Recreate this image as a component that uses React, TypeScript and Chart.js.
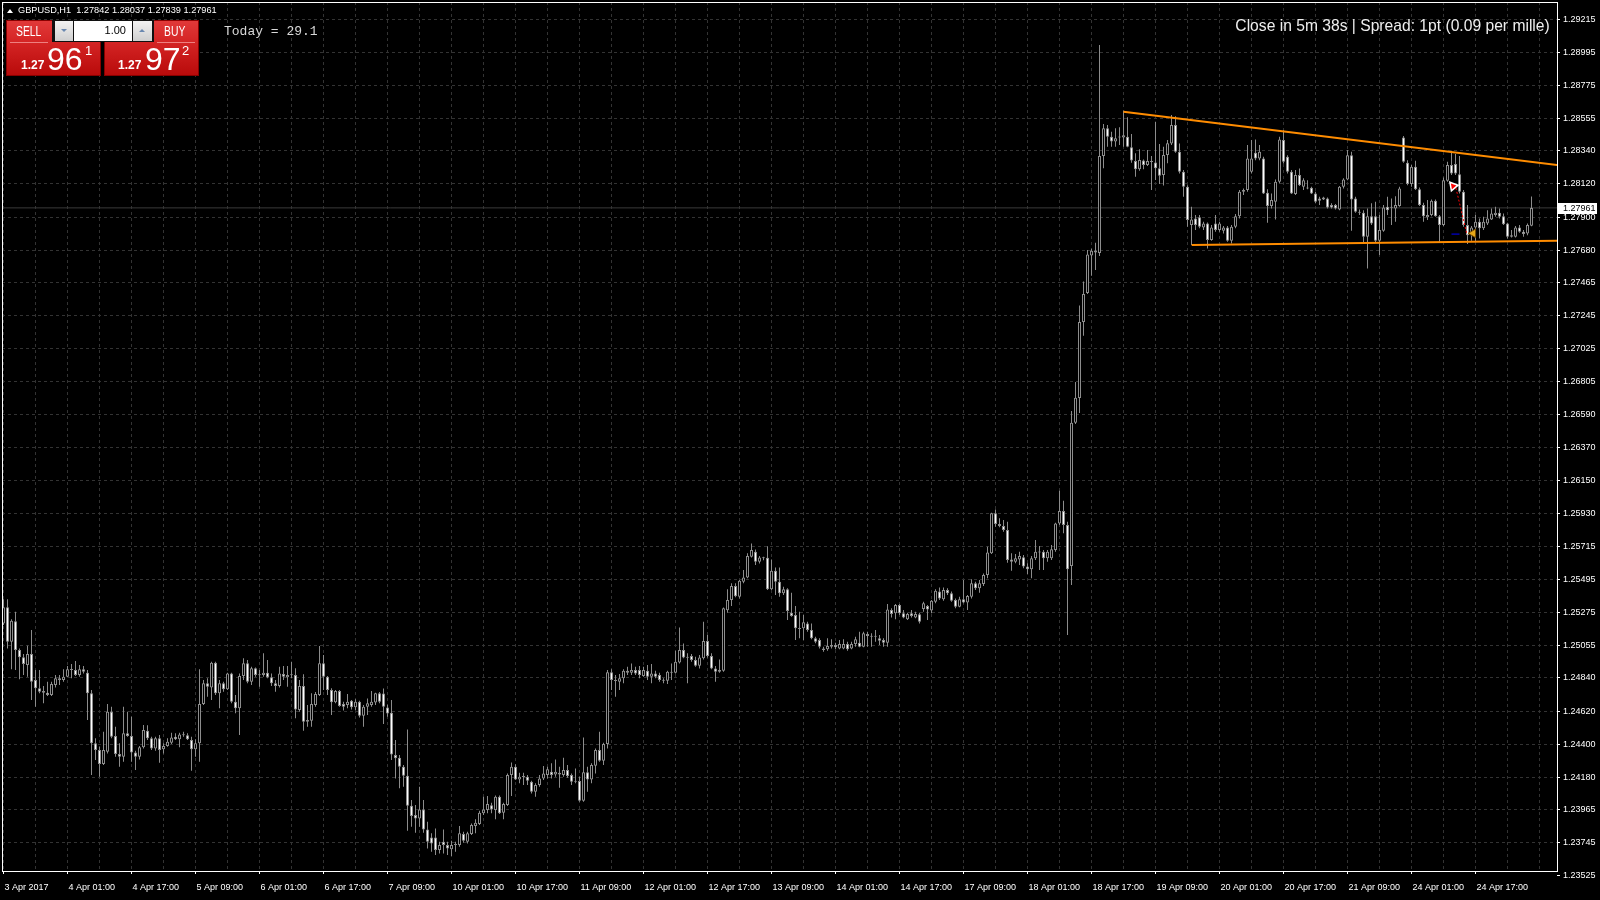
import React, { useEffect, useRef } from "react";
import { Chart, registerables } from "chart.js";

Chart.register(...registerables);

// ---- GBPUSD H1 candles (3 Apr 2017 09:00 onward) ----
const opens = [
  1.25202, 1.25309, 1.25081, 1.25216, 1.25025, 1.24977, 1.24926, 1.24999, 1.24826, 1.24771,
  1.24753, 1.24742, 1.24727, 1.24793, 1.24837, 1.24826, 1.24848, 1.24897, 1.24892, 1.24859,
  1.24897, 1.24875, 1.24738, 1.24406, 1.24361, 1.24268, 1.2435, 1.24616, 1.24454, 1.24335,
  1.24317, 1.24472, 1.24454, 1.24344, 1.24317, 1.24379, 1.2449, 1.24439, 1.24372, 1.24439,
  1.24366, 1.24388, 1.2441, 1.2445, 1.24432, 1.24465, 1.24459, 1.24428, 1.24366, 1.24406,
  1.24667, 1.24804, 1.24777, 1.24941, 1.24738, 1.24804, 1.24764, 1.2487, 1.24682, 1.24638,
  1.24853, 1.24937, 1.24815, 1.24904, 1.24864, 1.24859, 1.24875, 1.24844, 1.24804, 1.24786,
  1.24866, 1.24844, 1.24859, 1.24859, 1.24627, 1.24786, 1.24561, 1.24556, 1.2466, 1.24727,
  1.24937, 1.24848, 1.2476, 1.24678, 1.24753, 1.24667, 1.2466, 1.24689, 1.24645, 1.24682,
  1.24589, 1.24649, 1.2466, 1.24676, 1.24738, 1.24737, 1.24644, 1.24609, 1.24328, 1.2431,
  1.2425, 1.24191, 1.23991, 1.2393, 1.23907, 1.23967, 1.23834, 1.23781, 1.23781, 1.23697,
  1.23752, 1.2373, 1.23702, 1.2373, 1.2373, 1.23803, 1.23752, 1.23803, 1.23856, 1.2387,
  1.23941, 1.23963, 1.23994, 1.23963, 1.24051, 1.23945, 1.23996, 1.24195, 1.2425, 1.24166,
  1.24184, 1.24184, 1.24151, 1.24084, 1.24129, 1.24173, 1.24195, 1.24217, 1.24199, 1.24211,
  1.24195, 1.24228, 1.24195, 1.24157, 1.24155, 1.24025, 1.24213, 1.24166, 1.24257, 1.24361,
  1.2429, 1.24401, 1.24877, 1.24826, 1.24815, 1.24837, 1.24888, 1.24875, 1.24892, 1.24892,
  1.24852, 1.24888, 1.24848, 1.2487, 1.24859, 1.24826, 1.24821, 1.24875, 1.24875, 1.24943,
  1.25025, 1.24981, 1.24985, 1.24959, 1.24921, 1.2497, 1.25085, 1.24985, 1.24903, 1.24881,
  1.24888, 1.2529, 1.25357, 1.2545, 1.25379, 1.25479, 1.25507, 1.25645, 1.25678, 1.25611,
  1.25638, 1.25638, 1.25428, 1.25552, 1.25479, 1.25402, 1.25428, 1.25273, 1.25258, 1.25169,
  1.25169, 1.25202, 1.25158, 1.25103, 1.25092, 1.25036, 1.2503, 1.25047, 1.25059, 1.25036,
  1.25036, 1.25065, 1.25036, 1.25065, 1.25074, 1.25047, 1.25132, 1.25118, 1.25118, 1.25103,
  1.25092, 1.25074, 1.25291, 1.25269, 1.25324, 1.25269, 1.25229, 1.25269, 1.25242, 1.25262,
  1.25298, 1.25317, 1.25287, 1.25346, 1.25413, 1.25362, 1.25424, 1.25402, 1.25357, 1.25313,
  1.25362, 1.2534, 1.25379, 1.25468, 1.25435, 1.25464, 1.25523, 1.25667, 1.25933, 1.25862,
  1.25849, 1.25822, 1.25627, 1.25612, 1.25627, 1.25641, 1.25579, 1.25561, 1.25634, 1.25678,
  1.25678, 1.25634, 1.25634, 1.25689, 1.25866, 1.25948, 1.25855, 1.25583, 1.26534, 1.26698,
  1.27203, 1.27396, 1.27644, 1.27677, 1.27661, 1.28305, 1.28489, 1.28434, 1.28401, 1.28434,
  1.28429, 1.28434, 1.28363, 1.28272, 1.28217, 1.28275, 1.28246, 1.28268, 1.28263, 1.28224,
  1.28179, 1.28312, 1.28389, 1.28511, 1.28334, 1.28201, 1.28101, 1.27847, 1.27891, 1.27898,
  1.27831, 1.27858, 1.27747, 1.27858, 1.27814, 1.27809, 1.27831, 1.27743, 1.27836, 1.27906,
  1.28068, 1.28079, 1.28201, 1.28327, 1.28289, 1.28289, 1.28061, 1.27973, 1.28002, 1.28134,
  1.28411, 1.283, 1.28201, 1.28053, 1.28179, 1.28101, 1.28095, 1.28095, 1.28057, 1.28024,
  1.2803, 1.28024, 1.2798, 1.2798, 1.27951, 1.28101, 1.2815, 1.28311, 1.28024, 1.27935,
  1.27929, 1.27769, 1.27906, 1.27906, 1.27743, 1.27809, 1.27968, 1.27964, 1.27957, 1.27973,
  1.28429, 1.28261, 1.28119, 1.28234, 1.28084, 1.2798, 1.27898, 1.27913, 1.28008, 1.27906,
  1.27847, 1.28141, 1.28245, 1.28252, 1.28185, 1.28068, 1.27847, 1.2778, 1.27831, 1.27869,
  1.27825, 1.27858, 1.27884, 1.27913, 1.27929, 1.27906, 1.27858, 1.2778, 1.27769, 1.27831,
  1.27802, 1.27791, 1.27842,
];
const highs = [
  1.25362, 1.25362, 1.25229, 1.2528, 1.25036, 1.24999, 1.25054, 1.25158, 1.24892, 1.24892,
  1.24786, 1.24815, 1.24815, 1.24859, 1.24859, 1.24897, 1.24919, 1.24932, 1.24952, 1.24926,
  1.24919, 1.24892, 1.2476, 1.24439, 1.24383, 1.24483, 1.24667, 1.24649, 1.24516, 1.24406,
  1.24649, 1.24616, 1.24583, 1.24357, 1.24388, 1.24527, 1.24525, 1.2445, 1.2445, 1.24461,
  1.24406, 1.24439, 1.24476, 1.24472, 1.24476, 1.24483, 1.24472, 1.2445, 1.24432, 1.24897,
  1.24826, 1.24837, 1.24948, 1.24948, 1.24826, 1.24815, 1.24875, 1.24875, 1.24727, 1.2487,
  1.2497, 1.24959, 1.24915, 1.2491, 1.24892, 1.25003, 1.24959, 1.2487, 1.24826, 1.24915,
  1.24919, 1.24919, 1.24948, 1.24904, 1.24826, 1.24864, 1.2466, 1.24738, 1.24746, 1.25052,
  1.24992, 1.24853, 1.24771, 1.2476, 1.2476, 1.24682, 1.24733, 1.24693, 1.24698, 1.24689,
  1.2466, 1.24704, 1.24753, 1.24742, 1.24746, 1.2477, 1.24662, 1.24693, 1.24427, 1.24328,
  1.24261, 1.24498, 1.24029, 1.23996, 1.24118, 1.24029, 1.23885, 1.23808, 1.23841, 1.23752,
  1.23834, 1.23752, 1.23759, 1.23752, 1.23856, 1.23819, 1.23819, 1.23874, 1.23901, 1.23958,
  1.24051, 1.24056, 1.24011, 1.2406, 1.2406, 1.24011, 1.24206, 1.24279, 1.24266, 1.24211,
  1.24211, 1.24195, 1.24157, 1.2414, 1.24195, 1.24255, 1.2425, 1.24273, 1.24299, 1.2425,
  1.2431, 1.24261, 1.24206, 1.24239, 1.24184, 1.24445, 1.2425, 1.24273, 1.24372, 1.24483,
  1.2441, 1.24892, 1.24897, 1.24859, 1.24866, 1.24897, 1.24914, 1.24936, 1.24914, 1.24919,
  1.24914, 1.24925, 1.24932, 1.24888, 1.24875, 1.24837, 1.24888, 1.24936, 1.25021, 1.25175,
  1.25069, 1.25003, 1.24999, 1.24981, 1.24992, 1.25213, 1.25125, 1.25003, 1.24919, 1.24963,
  1.25308, 1.25428, 1.25468, 1.25468, 1.2549, 1.25556, 1.25667, 1.25733, 1.25693, 1.25649,
  1.25645, 1.25715, 1.25627, 1.25574, 1.25574, 1.25446, 1.25435, 1.25406, 1.25317, 1.2528,
  1.25258, 1.25213, 1.25202, 1.25114, 1.25103, 1.25047, 1.25103, 1.25096, 1.25074, 1.25092,
  1.25096, 1.25081, 1.25081, 1.25114, 1.25147, 1.25147, 1.25147, 1.25136, 1.25158, 1.25125,
  1.25103, 1.25331, 1.25302, 1.25331, 1.25331, 1.25291, 1.25273, 1.25291, 1.2528, 1.25273,
  1.25346, 1.25324, 1.25357, 1.25428, 1.25441, 1.25441, 1.25435, 1.25413, 1.25368, 1.25379,
  1.2549, 1.25391, 1.25495, 1.25479, 1.2549, 1.25534, 1.25711, 1.25937, 1.25959, 1.259,
  1.25888, 1.25877, 1.25667, 1.25663, 1.25678, 1.25656, 1.25601, 1.25649, 1.25756, 1.25716,
  1.25689, 1.25689, 1.25722, 1.25871, 1.26083, 1.26017, 1.25877, 1.26612, 1.26805, 1.27313,
  1.27472, 1.27681, 1.2769, 1.27729, 1.29042, 1.28518, 1.28511, 1.28467, 1.28489, 1.28496,
  1.28606, 1.28562, 1.28452, 1.28323, 1.2835, 1.28283, 1.28345, 1.28305, 1.28533, 1.28385,
  1.28367, 1.28412, 1.28577, 1.2857, 1.28389, 1.28212, 1.28112, 1.27968, 1.27913, 1.27913,
  1.27869, 1.27864, 1.27847, 1.27913, 1.27869, 1.2784, 1.2784, 1.27847, 1.2792, 1.28079,
  1.2809, 1.28378, 1.28411, 1.28415, 1.28378, 1.283, 1.28084, 1.28057, 1.2815, 1.28433,
  1.28477, 1.28311, 1.28212, 1.28212, 1.28223, 1.28157, 1.28145, 1.28101, 1.28068, 1.28035,
  1.28035, 1.2803, 1.27991, 1.27986, 1.28106, 1.28157, 1.28345, 1.28334, 1.28035, 1.27951,
  1.27946, 1.27957, 1.27991, 1.28002, 1.27913, 1.2798, 1.28035, 1.28024, 1.28039, 1.28101,
  1.28438, 1.28278, 1.28245, 1.28274, 1.28097, 1.27995, 1.28013, 1.28017, 1.28017, 1.27913,
  1.28163, 1.28267, 1.2834, 1.28318, 1.28305, 1.28079, 1.2798, 1.2784, 1.27913, 1.27891,
  1.27902, 1.27946, 1.27957, 1.27968, 1.27957, 1.27924, 1.27862, 1.27814, 1.2784, 1.27847,
  1.27814, 1.27858, 1.28037,
];
const lows = [
  1.25191, 1.25036, 1.24897, 1.24892, 1.24831, 1.24859, 1.24848, 1.24693, 1.24649, 1.24738,
  1.24671, 1.2472, 1.2472, 1.24777, 1.24793, 1.24815, 1.24844, 1.24837, 1.24853, 1.24848,
  1.2487, 1.24561, 1.24195, 1.24295, 1.24184, 1.24262, 1.24339, 1.24439, 1.24317, 1.24251,
  1.24284, 1.2445, 1.24284, 1.24229, 1.24299, 1.24372, 1.24428, 1.24361, 1.24357, 1.24277,
  1.24339, 1.24383, 1.24401, 1.24428, 1.24379, 1.2445, 1.24428, 1.24224, 1.24317, 1.24284,
  1.2466, 1.24715, 1.24693, 1.24727, 1.24638, 1.24749, 1.2476, 1.24671, 1.24605, 1.24461,
  1.24826, 1.24804, 1.24793, 1.24848, 1.24782, 1.24848, 1.24837, 1.24786, 1.24749, 1.24777,
  1.24826, 1.24782, 1.24837, 1.24572, 1.24616, 1.2449, 1.24516, 1.24516, 1.24649, 1.2472,
  1.2476, 1.24727, 1.24594, 1.24671, 1.24649, 1.24623, 1.24638, 1.24631, 1.24627, 1.24578,
  1.24516, 1.24594, 1.24649, 1.2466, 1.24671, 1.24534, 1.24582, 1.24295, 1.24173, 1.24107,
  1.24118, 1.23825, 1.23852, 1.23812, 1.23852, 1.23812, 1.23708, 1.23686, 1.23664, 1.23675,
  1.23675, 1.23664, 1.23657, 1.23686, 1.23719, 1.23746, 1.23741, 1.23797, 1.23808, 1.23863,
  1.2393, 1.23941, 1.23941, 1.23901, 1.23936, 1.23901, 1.23989, 1.24056, 1.24162, 1.2414,
  1.24129, 1.24129, 1.24073, 1.24051, 1.24118, 1.24162, 1.24173, 1.24173, 1.24184, 1.24111,
  1.24184, 1.24177, 1.24129, 1.2414, 1.24018, 1.24018, 1.24084, 1.2414, 1.24206, 1.24284,
  1.24261, 1.24372, 1.24759, 1.24715, 1.24759, 1.24804, 1.24859, 1.24859, 1.24859, 1.24837,
  1.24848, 1.24826, 1.24804, 1.24837, 1.24815, 1.24804, 1.24799, 1.24826, 1.2487, 1.24936,
  1.2497, 1.24804, 1.24947, 1.24914, 1.24903, 1.24963, 1.24976, 1.24897, 1.24815, 1.24875,
  1.24881, 1.25273, 1.25317, 1.25375, 1.25368, 1.25468, 1.25501, 1.2564, 1.25589, 1.256,
  1.25622, 1.25423, 1.25424, 1.25391, 1.25379, 1.25391, 1.25225, 1.25247, 1.25092, 1.25103,
  1.25092, 1.25147, 1.25096, 1.2507, 1.25036, 1.25014, 1.25021, 1.25036, 1.2503, 1.2503,
  1.2503, 1.25021, 1.2503, 1.25047, 1.25043, 1.25043, 1.25047, 1.25047, 1.25081, 1.25059,
  1.25047, 1.25047, 1.25242, 1.25229, 1.25258, 1.25236, 1.25225, 1.25242, 1.25236, 1.25202,
  1.2528, 1.25225, 1.25269, 1.25335, 1.25357, 1.25353, 1.25391, 1.25346, 1.25302, 1.25309,
  1.25335, 1.25291, 1.25368, 1.25424, 1.25406, 1.2545, 1.25501, 1.25663, 1.25844, 1.2584,
  1.25811, 1.25605, 1.25552, 1.25601, 1.2559, 1.25568, 1.2553, 1.25501, 1.25623, 1.25556,
  1.25556, 1.25612, 1.25623, 1.25678, 1.25855, 1.258, 1.25125, 1.25457, 1.26526, 1.26599,
  1.27112, 1.27389, 1.2751, 1.27548, 1.27641, 1.28224, 1.28367, 1.28367, 1.28367, 1.28379,
  1.28367, 1.28363, 1.28261, 1.28168, 1.28208, 1.28217, 1.28239, 1.2808, 1.28146, 1.2812,
  1.28109, 1.28257, 1.28378, 1.28327, 1.2819, 1.28035, 1.27836, 1.27714, 1.27814, 1.27825,
  1.27814, 1.27692, 1.27743, 1.27802, 1.27802, 1.27791, 1.27736, 1.27725, 1.27825, 1.27891,
  1.28046, 1.28068, 1.2819, 1.28278, 1.28278, 1.28053, 1.27862, 1.27957, 1.27884, 1.28123,
  1.28256, 1.2819, 1.28053, 1.28046, 1.28106, 1.28079, 1.28084, 1.28053, 1.27991, 1.2798,
  1.28013, 1.27957, 1.27957, 1.27951, 1.27946, 1.2809, 1.28145, 1.27809, 1.27929, 1.27913,
  1.27725, 1.27559, 1.27847, 1.27729, 1.27648, 1.27802, 1.27913, 1.27847, 1.27869, 1.27968,
  1.28261, 1.28112, 1.28101, 1.28079, 1.27973, 1.27869, 1.2788, 1.27906, 1.27902, 1.27736,
  1.2784, 1.28134, 1.28179, 1.28179, 1.28057, 1.27836, 1.27721, 1.27743, 1.27736, 1.27758,
  1.27814, 1.27847, 1.2788, 1.27902, 1.27891, 1.27847, 1.27758, 1.27765, 1.27765, 1.27796,
  1.27769, 1.2778, 1.27839,
];
const closes = [
  1.25309, 1.25081, 1.2522, 1.25025, 1.24977, 1.24932, 1.24999, 1.24815, 1.24771, 1.24749,
  1.24742, 1.24727, 1.248, 1.24837, 1.24826, 1.24848, 1.24897, 1.24892, 1.24859, 1.24897,
  1.24881, 1.24738, 1.24406, 1.24361, 1.24268, 1.24361, 1.24616, 1.2445, 1.24335, 1.24317,
  1.24472, 1.24454, 1.24344, 1.24317, 1.24379, 1.24494, 1.24439, 1.24372, 1.24439, 1.24361,
  1.24388, 1.24417, 1.24445, 1.24432, 1.24465, 1.24459, 1.24432, 1.24366, 1.24406, 1.24667,
  1.24804, 1.24782, 1.24941, 1.24738, 1.24804, 1.24764, 1.2487, 1.24682, 1.24638, 1.24853,
  1.24937, 1.24815, 1.24904, 1.24859, 1.24857, 1.24875, 1.24844, 1.24804, 1.24786, 1.2487,
  1.24848, 1.24859, 1.24857, 1.24631, 1.24786, 1.24549, 1.24549, 1.24667, 1.24733, 1.24937,
  1.24848, 1.2476, 1.24678, 1.24753, 1.24654, 1.24649, 1.24682, 1.24645, 1.24682, 1.24589,
  1.24649, 1.24671, 1.24682, 1.24738, 1.24682, 1.24649, 1.24604, 1.24332, 1.24306, 1.2425,
  1.24191, 1.23991, 1.23923, 1.23907, 1.23967, 1.23834, 1.23752, 1.23741, 1.23697, 1.2373,
  1.2373, 1.23708, 1.2373, 1.23737, 1.23808, 1.23759, 1.23808, 1.23863, 1.23879, 1.23945,
  1.23967, 1.24003, 1.23967, 1.24051, 1.23941, 1.24003, 1.24195, 1.2425, 1.24166, 1.24184,
  1.24182, 1.24157, 1.24084, 1.24129, 1.24173, 1.24206, 1.24233, 1.24195, 1.24217, 1.24199,
  1.24228, 1.24188, 1.24151, 1.24151, 1.24025, 1.24213, 1.24166, 1.24261, 1.24361, 1.2429,
  1.24401, 1.24877, 1.24826, 1.24819, 1.24837, 1.24888, 1.24875, 1.24892, 1.2487, 1.24859,
  1.24892, 1.24848, 1.2487, 1.24848, 1.24826, 1.24821, 1.24881, 1.24881, 1.24947, 1.25025,
  1.24976, 1.24974, 1.24959, 1.24921, 1.24976, 1.25085, 1.24985, 1.24903, 1.24881, 1.24892,
  1.25302, 1.25357, 1.2545, 1.25383, 1.25485, 1.25507, 1.25649, 1.25689, 1.25611, 1.2564,
  1.25634, 1.25428, 1.25552, 1.25479, 1.25402, 1.25428, 1.25284, 1.25251, 1.25169, 1.25165,
  1.25209, 1.25158, 1.25103, 1.25081, 1.25047, 1.25025, 1.25052, 1.25059, 1.25043, 1.25065,
  1.25065, 1.2503, 1.25065, 1.25096, 1.25047, 1.25136, 1.25118, 1.25114, 1.25114, 1.25087,
  1.25074, 1.25295, 1.25264, 1.25324, 1.25269, 1.25242, 1.25264, 1.25251, 1.25264, 1.25213,
  1.25335, 1.25295, 1.25353, 1.25419, 1.25368, 1.25424, 1.25402, 1.25353, 1.25313, 1.25362,
  1.2534, 1.25384, 1.25468, 1.25435, 1.25468, 1.25523, 1.25672, 1.25933, 1.25862, 1.25849,
  1.25822, 1.25623, 1.25612, 1.25634, 1.25649, 1.25579, 1.25561, 1.25634, 1.25678, 1.25672,
  1.25634, 1.25678, 1.25694, 1.25866, 1.25948, 1.25855, 1.25561, 1.26534, 1.26701, 1.27203,
  1.27389, 1.27651, 1.27677, 1.27664, 1.28305, 1.28489, 1.28434, 1.28401, 1.28423, 1.28429,
  1.28443, 1.28367, 1.28275, 1.28217, 1.28279, 1.28246, 1.28272, 1.28266, 1.28224, 1.28175,
  1.28312, 1.2839, 1.28511, 1.28334, 1.28201, 1.28101, 1.2788, 1.27884, 1.27847, 1.27836,
  1.27858, 1.27747, 1.27831, 1.27814, 1.27858, 1.27831, 1.27743, 1.27836, 1.27906, 1.28068,
  1.28079, 1.28289, 1.28289, 1.28289, 1.28334, 1.28057, 1.27973, 1.28013, 1.28134, 1.28415,
  1.28267, 1.28201, 1.28057, 1.28179, 1.28112, 1.28145, 1.2809, 1.28057, 1.28002, 1.28008,
  1.28017, 1.27964, 1.27964, 1.27957, 1.28101, 1.2815, 1.28311, 1.28017, 1.27935, 1.27929,
  1.27769, 1.27906, 1.27858, 1.27743, 1.27814, 1.27964, 1.27946, 1.27962, 1.2798, 1.2809,
  1.28267, 1.28119, 1.28234, 1.28084, 1.2798, 1.27906, 1.27913, 1.28008, 1.27906, 1.27847,
  1.28145, 1.28245, 1.2819, 1.2819, 1.28068, 1.27847, 1.2778, 1.27831, 1.27869, 1.27825,
  1.27869, 1.27891, 1.27924, 1.27929, 1.27902, 1.27853, 1.27769, 1.27769, 1.27831, 1.27802,
  1.27787, 1.27847, 1.27961,
];

// time-axis labels, one every 16 bars
const timeLabels = [
  "3 Apr 2017", "4 Apr 01:00", "4 Apr 17:00", "5 Apr 09:00", "6 Apr 01:00", "6 Apr 17:00",
  "7 Apr 09:00", "10 Apr 01:00", "10 Apr 17:00", "11 Apr 09:00", "12 Apr 01:00", "12 Apr 17:00",
  "13 Apr 09:00", "14 Apr 01:00", "14 Apr 17:00", "17 Apr 09:00", "18 Apr 01:00", "18 Apr 17:00",
  "19 Apr 09:00", "20 Apr 01:00", "20 Apr 17:00", "21 Apr 09:00", "24 Apr 01:00", "24 Apr 17:00",
];
const BARS_PER_LABEL = 16;
const BARS_PER_GRID = 8;

// price-axis labels
const priceTicks = [
  1.23525, 1.23745, 1.23965, 1.2418, 1.244, 1.2462, 1.2484, 1.25055, 1.25275,
  1.25495, 1.25715, 1.2593, 1.2615, 1.2637, 1.2659, 1.26805, 1.27025, 1.27245,
  1.27465, 1.2768, 1.279, 1.2812, 1.2834, 1.28555, 1.28775, 1.28995, 1.29215,
];

// trend lines (bar index, price)
const upperTrend = [{ x: 280, y: 1.28599 }, { x: 390, y: 1.2824 }];
const lowerTrend = [{ x: 297.05, y: 1.27714 }, { x: 390, y: 1.27744 }];

// trade history marks
const tradeOpen = [{ x: 362.4, y: 1.28106 }];
const tradePath = [{ x: 363.1, y: 1.28093 }, { x: 365.8, y: 1.27792 }];
const tradeClose = [{ x: 367.4, y: 1.27792 }];
const stopMark = [{ x: 362.0, y: 1.27787 }, { x: 364.0, y: 1.27787 }];

const X_MIN = -0.375;
const X_MAX = 388.375;
const Y_MIN = 1.23558;
const Y_MAX = 1.29328;

const FONT = '"Liberation Sans", Arial, sans-serif';
const GRID = "#333333";
const CANDLE_LINE = "#8c8c8c";

export default function App() {
  const ref = useRef<HTMLCanvasElement | null>(null);

  useEffect(() => {
    if (!ref.current) return;
    const n = closes.length;
    const idx = closes.map((_, i) => i);
    const bodies = idx.map((i) => ({ x: i, y: [opens[i], closes[i]] }));
    const wicks = idx.map((i) => ({ x: i, y: [lows[i], highs[i]] }));
    const bodyFill = idx.map((i) => (closes[i] < opens[i] ? "#ffffff" : "#000000"));
    const lastClose = closes[n - 1];
    const gridBars: number[] = [];
    for (let v = 0; v <= X_MAX; v += BARS_PER_GRID) gridBars.push(v);

    const framePlugin = {
      id: "frame",
      afterDraw(chart: any) {
        const { ctx, chartArea: a, scales } = chart;
        ctx.save();
        ctx.strokeStyle = "#ffffff";
        ctx.lineWidth = 1;
        ctx.strokeRect(a.left + 0.5, a.top + 0.5, a.right - a.left, a.bottom - a.top);
        const y = Math.round(scales.y.getPixelForValue(lastClose));
        ctx.fillStyle = "#ffffff";
        ctx.fillRect(a.right + 1, y - 5, 39, 11);
        ctx.fillStyle = "#000000";
        ctx.font = `9px ${FONT}`;
        ctx.textBaseline = "middle";
        ctx.textAlign = "left";
        ctx.fillText(lastClose.toFixed(5), a.right + 6, y + 0.5);
        ctx.restore();
      },
    };

    const chart = new Chart(ref.current, {
      type: "bar",
      data: {
        datasets: [
          {
            type: "line",
            data: tradeOpen,
            showLine: false,
            pointStyle: "triangle",
            pointRadius: 5,
            rotation: 200,
            pointBackgroundColor: "#ff0000",
            pointBorderColor: "#ffffff",
            pointBorderWidth: 1.5,
            order: 0,
          } as any,
          {
            type: "line",
            data: tradeClose,
            showLine: false,
            pointStyle: "triangle",
            pointRadius: 5,
            rotation: -90,
            pointBackgroundColor: "#e8a818",
            pointBorderColor: "#704800",
            pointBorderWidth: 1,
            order: 0,
          } as any,
          {
            type: "line",
            data: tradePath,
            borderColor: "#ff0000",
            borderWidth: 1,
            borderDash: [2, 2],
            pointRadius: 0,
            order: 0,
          } as any,
          {
            type: "line",
            data: stopMark,
            borderColor: "#0000ff",
            borderWidth: 1,
            pointRadius: 0,
            order: 0,
          } as any,
          {
            type: "line",
            data: upperTrend,
            borderColor: "#ff8c00",
            borderWidth: 2,
            pointRadius: 0,
            order: 1,
          } as any,
          {
            type: "line",
            data: lowerTrend,
            borderColor: "#ff8c00",
            borderWidth: 2,
            pointRadius: 0,
            order: 1,
          } as any,
          {
            type: "bar",
            data: bodies,
            backgroundColor: bodyFill,
            borderColor: CANDLE_LINE,
            borderWidth: 1,
            borderSkipped: false,
            grouped: false,
            barPercentage: 1,
            categoryPercentage: 1,
            maxBarThickness: 3,
            minBarLength: 1,
            inflateAmount: 0,
            order: 2,
          } as any,
          {
            type: "bar",
            data: wicks,
            backgroundColor: CANDLE_LINE,
            borderWidth: 0,
            grouped: false,
            barPercentage: 1,
            categoryPercentage: 1,
            maxBarThickness: 1,
            minBarLength: 1,
            inflateAmount: 0,
            order: 3,
          } as any,
          {
            type: "line",
            data: [
              { x: X_MIN, y: lastClose },
              { x: X_MAX, y: lastClose },
            ],
            borderColor: "#3a3a3a",
            borderWidth: 1,
            pointRadius: 0,
            order: 4,
          } as any,
        ],
      },
      options: {
        animation: false,
        responsive: false,
        maintainAspectRatio: false,
        events: [],
        layout: { autoPadding: false, padding: { left: 2, top: 2, right: 0, bottom: 0 } },
        plugins: { legend: { display: false }, tooltip: { enabled: false } },
        scales: {
          x: {
            type: "linear",
            position: "bottom",
            min: X_MIN,
            max: X_MAX,
            offset: false,
            bounds: "data",
            afterFit: (s: any) => {
              s.height = 29;
              s.paddingLeft = 0;
              s.paddingRight = 0;
            },
            afterBuildTicks: (s: any) => {
              s.ticks = gridBars.map((v) => ({ value: v }));
            },
            grid: {
              color: GRID,
              lineWidth: 1,
              offset: false,
              drawTicks: true,
              tickLength: 3,
              tickWidth: 1,
              borderDash: [3, 3],
              tickBorderDash: [],
              tickColor: (c: any) =>
                c.tick && c.tick.value % BARS_PER_LABEL === 0 && timeLabels[c.tick.value / BARS_PER_LABEL]
                  ? "#ffffff"
                  : "rgba(0,0,0,0)",
            },
            border: { display: false, dash: [3, 3] },
            ticks: {
              color: "#ffffff",
              font: { family: FONT, size: 9 },
              autoSkip: false,
              maxRotation: 0,
              minRotation: 0,
              align: "start",
              padding: 8,
              labelOffset: 1,
              callback: (value: any) => {
                const v = Number(value);
                return v % BARS_PER_LABEL === 0 ? timeLabels[v / BARS_PER_LABEL] ?? "" : "";
              },
            },
          } as any,
          y: {
            type: "linear",
            position: "right",
            min: Y_MIN,
            max: Y_MAX,
            bounds: "data",
            afterFit: (s: any) => {
              s.width = 43;
              s.paddingTop = 0;
              s.paddingBottom = 0;
            },
            afterBuildTicks: (s: any) => {
              s.ticks = priceTicks.map((v) => ({ value: v }));
            },
            grid: {
              color: (c: any) => (c.tick && c.tick.value < Y_MIN ? "rgba(0,0,0,0)" : GRID),
              lineWidth: 1,
              drawTicks: true,
              tickLength: 3,
              tickWidth: 1,
              tickColor: "#ffffff",
              borderDash: [3, 3],
              tickBorderDash: [],
            },
            border: { display: false, dash: [3, 3] },
            ticks: {
              color: "#ffffff",
              font: { family: FONT, size: 9 },
              autoSkip: false,
              padding: 3,
              crossAlign: "near",
              callback: (value: any) => Number(value).toFixed(5),
            },
          } as any,
        },
      },
      plugins: [framePlugin],
    } as any);

    return () => chart.destroy();
  }, []);

  const redBlock: React.CSSProperties = {
    position: "absolute",
    top: 20,
    width: 95,
    height: 56,
    background: "linear-gradient(to bottom, #e23a3a 0%, #d42424 40%, #b80a0a 100%)",
    boxShadow: "inset 0 0 0 1px #8a0000",
  };
  const abs = (o: React.CSSProperties): React.CSSProperties => ({ position: "absolute", whiteSpace: "pre", ...o });

  return (
    <div
      style={{
        position: "fixed",
        left: 0,
        top: 0,
        width: 1600,
        height: 900,
        background: "#000000",
        overflow: "hidden",
      }}
    >
      <canvas ref={ref} width={1600} height={900} style={{ position: "absolute", left: 0, top: 0, width: 1600, height: 900 }} />

      {/* symbol header */}
      <div
        style={abs({
          left: 7,
          top: 9,
          width: 0,
          height: 0,
          borderLeft: "3px solid transparent",
          borderRight: "3px solid transparent",
          borderBottom: "4px solid #ffffff",
        })}
      />
      <div style={abs({ left: 18, top: 6, font: `9.2px ${FONT}`, lineHeight: "9.5px", color: "#ffffff" })}>
        GBPUSD,H1  1.27842 1.28037 1.27839 1.27961
      </div>

      {/* one-click trading panel */}
      <div style={{ ...redBlock, left: 6 }} />
      <div style={{ ...redBlock, left: 104 }} />
      <div style={abs({ left: 10, top: 42, width: 38, height: 1, background: "#ee8080" })} />
      <div style={abs({ left: 157, top: 42, width: 38, height: 1, background: "#ee8080" })} />
      <div
        style={abs({
          left: 16,
          top: 24,
          font: `14px ${FONT}`,
          lineHeight: "14px",
          color: "#ffffff",
          transform: "scaleX(0.74)",
          transformOrigin: "left center",
        })}
      >
        SELL
      </div>
      <div
        style={abs({
          left: 164,
          top: 24,
          font: `14px ${FONT}`,
          lineHeight: "14px",
          color: "#ffffff",
          transform: "scaleX(0.74)",
          transformOrigin: "left center",
        })}
      >
        BUY
      </div>
      <div style={abs({ left: 52, top: 20, width: 102, height: 22, background: "#101010" })} />
      <div
        style={abs({
          left: 55,
          top: 21,
          width: 18,
          height: 20,
          background: "linear-gradient(#f2f2f2, #cfcfcf)",
        })}
      />
      <div
        style={abs({
          left: 61,
          top: 29,
          width: 0,
          height: 0,
          borderLeft: "3px solid transparent",
          borderRight: "3px solid transparent",
          borderTop: "3px solid #6a88b0",
        })}
      />
      <div style={abs({ left: 74, top: 21, width: 58, height: 20, background: "#ffffff" })} />
      <div style={abs({ left: 74, top: 24, width: 52, textAlign: "right", font: `11px ${FONT}`, lineHeight: "13px", color: "#000000" })}>
        1.00
      </div>
      <div
        style={abs({
          left: 133,
          top: 21,
          width: 19,
          height: 20,
          background: "linear-gradient(#f2f2f2, #cfcfcf)",
        })}
      />
      <div
        style={abs({
          left: 139,
          top: 29,
          width: 0,
          height: 0,
          borderLeft: "3px solid transparent",
          borderRight: "3px solid transparent",
          borderBottom: "3px solid #6a88b0",
        })}
      />
      {/* sell price */}
      <div style={abs({ left: 21, top: 59, font: `bold 12px ${FONT}`, lineHeight: "12px", color: "#ffffff" })}>1.27</div>
      <div style={abs({ left: 47, top: 43, font: `32px ${FONT}`, lineHeight: "32px", color: "#ffffff" })}>96</div>
      <div style={abs({ left: 85, top: 44, font: `13px ${FONT}`, lineHeight: "13px", color: "#ffffff" })}>1</div>
      {/* buy price */}
      <div style={abs({ left: 118, top: 59, font: `bold 12px ${FONT}`, lineHeight: "12px", color: "#ffffff" })}>1.27</div>
      <div style={abs({ left: 145, top: 43, font: `32px ${FONT}`, lineHeight: "32px", color: "#ffffff" })}>97</div>
      <div style={abs({ left: 182, top: 44, font: `13px ${FONT}`, lineHeight: "13px", color: "#ffffff" })}>2</div>

      {/* indicator text */}
      <div
        style={abs({
          left: 224,
          top: 25,
          font: '13px "Liberation Mono", "Courier New", monospace',
          lineHeight: "13px",
          color: "#d8d8d8",
        })}
      >
        Today = 29.1
      </div>
      <div
        style={abs({
          right: 50,
          top: 17,
          font: `17px ${FONT}`,
          lineHeight: "17px",
          color: "#eeeeee",
          transform: "scaleX(0.92)",
          transformOrigin: "right center",
        })}
      >
        Close in 5m 38s | Spread: 1pt (0.09 per mille)
      </div>
    </div>
  );
}
